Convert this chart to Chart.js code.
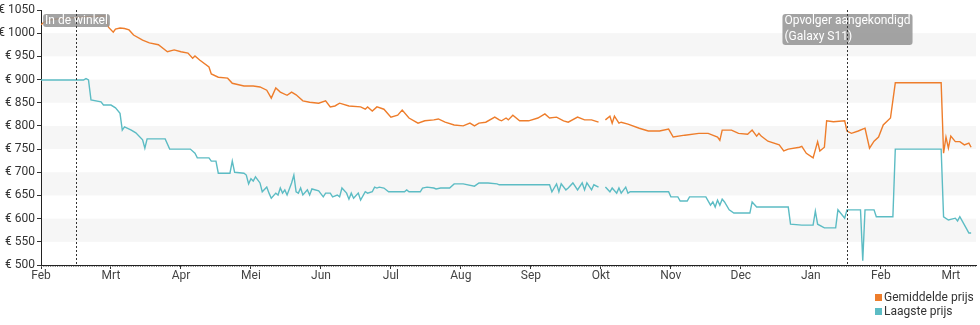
<!DOCTYPE html>
<html lang="nl">
<head>
  <meta charset="utf-8">
  <title>Prijsverloop</title>
  <style type="text/css">
    body { margin: 0; background: #fff; }
    .chart-container {
      position: relative;
      width: 980px;
      height: 325px;
    }
    #legend {
      position: absolute;
      left: 875px;
      top: 290px;
      font-family: Roboto, sans-serif;
      font-size: 12px;
      color: #333;
      line-height: 14px;
    }
    #legend span.box {
      display: inline-block;
      width: 7px;
      height: 7px;
      margin-right: 2px;
    }
  </style>
</head>
<body>
  <div class="chart-container">
    <canvas id="priceChart"></canvas>
    <div id="legend"></div>
  </div>

  <script src="https://cdn.jsdelivr.net/npm/chart.js@4.4.0/dist/chart.umd.min.js"></script>
  <script>
    var monthLabels = ['Feb', 'Mrt', 'Apr', 'Mei', 'Jun', 'Jul', 'Aug', 'Sep', 'Okt', 'Nov', 'Dec', 'Jan', 'Feb', 'Mrt'];
    var yTicks = [500, 550, 600, 650, 700, 750, 800, 850, 900, 950, 1000, 1050];

    var gemDates = ['2019-02-01','2019-02-02','2019-02-04','2019-02-08','2019-02-13','2019-02-18','2019-02-22','2019-02-25','2019-02-27','2019-02-28',
      '2019-03-02','2019-03-03','2019-03-05','2019-03-07','2019-03-09','2019-03-11','2019-03-15','2019-03-18','2019-03-22','2019-03-26','2019-03-29',
      '2019-04-01','2019-04-04','2019-04-06','2019-04-07','2019-04-09','2019-04-13','2019-04-14','2019-04-17','2019-04-21','2019-04-23','2019-04-28',
      '2019-05-02','2019-05-05','2019-05-08','2019-05-10','2019-05-12','2019-05-14','2019-05-17','2019-05-19','2019-05-21','2019-05-24','2019-05-27','2019-05-31',
      '2019-06-03','2019-06-05','2019-06-07','2019-06-09','2019-06-13','2019-06-18','2019-06-20','2019-06-21','2019-06-23','2019-06-25','2019-06-28',
      '2019-07-01','2019-07-04','2019-07-06','2019-07-09','2019-07-13','2019-07-16','2019-07-20','2019-07-22','2019-07-25','2019-07-29',
      '2019-08-02','2019-08-05','2019-08-07','2019-08-09','2019-08-12','2019-08-16','2019-08-18','2019-08-19','2019-08-21','2019-08-22','2019-08-24','2019-08-27','2019-08-31',
      '2019-09-04','2019-09-07','2019-09-09','2019-09-12','2019-09-15','2019-09-17','2019-09-21','2019-09-24','2019-09-27','2019-09-30',
      '2019-10-01','2019-10-03','2019-10-05','2019-10-06','2019-10-07','2019-10-09','2019-10-10','2019-10-13','2019-10-18','2019-10-22','2019-10-27','2019-10-31',
      '2019-11-02','2019-11-07','2019-11-13','2019-11-17','2019-11-21','2019-11-22','2019-11-23','2019-11-27','2019-11-30',
      '2019-12-04','2019-12-06','2019-12-08','2019-12-09','2019-12-10','2019-12-13','2019-12-18','2019-12-20','2019-12-22','2019-12-27','2019-12-28','2019-12-30',
      '2020-01-02','2020-01-04','2020-01-05','2020-01-07','2020-01-08','2020-01-11','2020-01-16','2020-01-17','2020-01-19','2020-01-22','2020-01-25','2020-01-27','2020-01-29','2020-01-31',
      '2020-02-02','2020-02-05','2020-02-07','2020-02-26','2020-02-27','2020-02-28','2020-02-29',
      '2020-03-01','2020-03-03','2020-03-05','2020-03-07','2020-03-09','2020-03-10'];
    var gemPrijs = [1018,1023,1028,1031,1033,1035,1036,1037,1037,1013,
      1002,1009,1011,1010,1007,996,985,979,975,960,964,
      960,957,946,951,942,927,912,905,903,892,886,
      886,884,877,860,882,873,866,873,867,854,851,849,
      854,841,843,849,843,841,836,841,832,841,836,
      819,823,834,817,806,811,813,815,808,802,
      800,806,800,806,808,819,813,811,817,813,823,811,811,
      817,826,817,819,811,808,819,813,813,808,
      null,813,821,806,821,806,808,804,795,789,789,793,
      776,780,784,784,776,769,791,791,784,
      782,791,778,784,778,767,759,746,750,754,756,741,
      731,766,746,754,811,809,811,789,784,789,795,752,767,776,
      802,817,893,893,741,776,752,
      778,766,766,759,763,754];

    var laagDates = ['2019-02-01','2019-02-18','2019-02-19','2019-02-20','2019-02-21','2019-02-25','2019-02-26',
      '2019-03-01','2019-03-03','2019-03-05','2019-03-06','2019-03-07','2019-03-10','2019-03-12','2019-03-15','2019-03-16','2019-03-17','2019-03-25','2019-03-27',
      '2019-04-05','2019-04-07','2019-04-08','2019-04-13','2019-04-14','2019-04-16','2019-04-17','2019-04-22','2019-04-23','2019-04-24','2019-04-28','2019-04-29','2019-04-30',
      '2019-05-01','2019-05-02','2019-05-03','2019-05-05','2019-05-06','2019-05-08','2019-05-09','2019-05-10','2019-05-12','2019-05-13','2019-05-14','2019-05-15','2019-05-16','2019-05-17',
      '2019-05-19','2019-05-20','2019-05-21','2019-05-22','2019-05-23','2019-05-24','2019-05-26','2019-05-27','2019-05-28','2019-05-31',
      '2019-06-02','2019-06-03','2019-06-05','2019-06-06','2019-06-08','2019-06-09','2019-06-10','2019-06-12','2019-06-13','2019-06-14','2019-06-15','2019-06-17','2019-06-18',
      '2019-06-20','2019-06-21','2019-06-23','2019-06-24','2019-06-25','2019-06-26','2019-06-28','2019-06-30',
      '2019-07-07','2019-07-08','2019-07-09','2019-07-14','2019-07-15','2019-07-17','2019-07-20','2019-07-21','2019-07-23','2019-07-27','2019-07-29',
      '2019-08-02','2019-08-07','2019-08-09','2019-08-13','2019-08-17','2019-08-18',
      '2019-09-09','2019-09-10','2019-09-12','2019-09-13','2019-09-14','2019-09-16','2019-09-17','2019-09-19','2019-09-21','2019-09-23','2019-09-24','2019-09-25','2019-09-27','2019-09-28','2019-09-30',
      '2019-10-01','2019-10-03','2019-10-05','2019-10-06','2019-10-08','2019-10-09','2019-10-10','2019-10-12','2019-10-13','2019-10-14','2019-10-31',
      '2019-11-01','2019-11-04','2019-11-05','2019-11-08','2019-11-09','2019-11-16','2019-11-18','2019-11-19','2019-11-20','2019-11-21','2019-11-22','2019-11-23','2019-11-24','2019-11-26','2019-11-28',
      '2019-12-05','2019-12-06','2019-12-08','2019-12-22','2019-12-23','2019-12-28',
      '2020-01-02','2020-01-03','2020-01-04','2020-01-07','2020-01-12','2020-01-13','2020-01-16','2020-01-17','2020-01-23','2020-01-24','2020-01-25','2020-01-29','2020-01-30',
      '2020-02-06','2020-02-07','2020-02-26','2020-02-27','2020-02-29',
      '2020-03-03','2020-03-04','2020-03-05','2020-03-08','2020-03-09','2020-03-10'];
    var laagPrijs = [899,899,902,899,856,852,845,
      845,839,827,791,798,791,785,770,752,772,772,750,
      750,741,731,731,724,724,698,698,724,700,698,694,675,
      686,681,690,677,658,668,655,644,655,651,666,655,662,651,
      677,694,658,655,666,651,662,651,664,660,
      647,655,655,647,651,647,666,655,642,655,644,655,640,
      658,655,658,668,666,668,666,658,
      658,662,658,658,666,668,666,664,666,666,675,
      675,670,677,677,675,673,
      673,658,675,658,675,662,666,677,662,677,662,677,662,673,668,
      null,668,658,666,655,666,655,668,655,658,658,
      647,647,638,638,647,647,629,636,625,640,629,642,636,619,612,
      612,636,625,625,588,586,
      586,616,588,580,580,619,601,619,619,509,619,619,604,
      604,750,750,604,597,
      601,595,604,578,569,569];

    var eventDates = ['2019-02-15', '2020-01-17'];
    var eventLabels = [['In de winkel'], ['Opvolger aangekondigd', '(Galaxy S11)']];

    var orange = '#ee7d2b';
    var teal = '#5cbcc4';

    // position on the axis: one unit per month, counted from Feb 2019
    function monthPos(dateStr) {
      var p = dateStr.split('-');
      var y = +p[0], m = +p[1], d = +p[2];
      var dim = new Date(y, m, 0).getDate();
      return (y - 2019) * 12 + (m - 2) + (d - 1) / dim;
    }
    function toPoints(dates, values) {
      return dates.map(function(d, i) { return { x: monthPos(d), y: values[i] }; });
    }

    var bandsPlugin = {
      id: 'bands',
      beforeDatasetsDraw: function(chart) {
        var ctx = chart.ctx, ys = chart.scales.y, area = chart.chartArea;
        ctx.save();
        ctx.fillStyle = '#f6f6f6';
        for (var i = 1; i < yTicks.length - 1; i += 2) {
          var top = ys.getPixelForValue(yTicks[i + 1]);
          var bot = ys.getPixelForValue(yTicks[i]);
          ctx.fillRect(area.left + 1, top, area.right - area.left - 1, bot - top);
        }
        ctx.restore();
      }
    };

    var eventsPlugin = {
      id: 'events',
      afterDatasetsDraw: function(chart) {
        var ctx = chart.ctx, xs = chart.scales.x, area = chart.chartArea;
        ctx.save();
        // day ticks under the x axis
        ctx.strokeStyle = '#777';
        ctx.lineWidth = 1;
        ctx.setLineDash([1, 1.3]);
        ctx.beginPath();
        ctx.moveTo(area.left, area.bottom + 1.5);
        ctx.lineTo(area.right, area.bottom + 1.5);
        ctx.stroke();

        ctx.font = '12px Roboto';
        ctx.textBaseline = 'middle';
        eventDates.forEach(function(d, i) {
          var x = Math.round(xs.getPixelForValue(monthPos(d))) + 0.5;
          var lines = eventLabels[i];
          var w = 0;
          lines.forEach(function(l) { w = Math.max(w, ctx.measureText(l).width); });
          w += 4;
          var h = lines.length == 1 ? 13 : 31;
          var bx = x - w / 2, by = area.top + 4;
          ctx.setLineDash([]);
          ctx.fillStyle = 'rgba(150,150,150,0.88)';
          ctx.beginPath();
          ctx.roundRect(bx, by, w, h, 3);
          ctx.fill();
          ctx.fillStyle = '#fff';
          lines.forEach(function(l, j) {
            ctx.fillText(l, bx + 2, by + 7 + j * 15.5);
          });
          ctx.strokeStyle = '#333';
          ctx.setLineDash([2, 2]);
          ctx.beginPath();
          ctx.moveTo(x, area.top);
          ctx.lineTo(x, area.bottom);
          ctx.stroke();
        });
        ctx.restore();
      }
    };

    Chart.defaults.font.family = 'Roboto';
    Chart.defaults.font.size = 12;
    Chart.defaults.color = '#333';

    var priceChart = new Chart(document.getElementById('priceChart').getContext('2d'), {
      type: 'line',
      data: {
        datasets: [
          {
            label: 'Gemiddelde prijs',
            data: toPoints(gemDates, gemPrijs),
            borderColor: orange,
            backgroundColor: orange,
            borderWidth: 1.4,
            pointRadius: 0,
            tension: 0,
            spanGaps: false,
            fill: false
          },
          {
            label: 'Laagste prijs',
            data: toPoints(laagDates, laagPrijs),
            borderColor: teal,
            backgroundColor: teal,
            borderWidth: 1.4,
            pointRadius: 0,
            tension: 0,
            spanGaps: false,
            fill: false
          }
        ]
      },
      options: {
        responsive: true,
        maintainAspectRatio: false,
        animation: false,
        layout: { padding: { top: 10, right: 4, bottom: 40, left: 0 } },
        plugins: {
          legend: { display: false },
          tooltip: { enabled: false }
        },
        scales: {
          x: {
            type: 'linear',
            min: 0,
            max: 13.36,
            afterBuildTicks: function(scale) {
              scale.ticks = monthLabels.map(function(l, i) { return { value: i }; });
            },
            afterFit: function(scale) { scale.height = 20; },
            grid: { drawOnChartArea: false, drawTicks: true, tickLength: 4, color: '#333' },
            border: { display: true, color: '#222', width: 1 },
            ticks: {
              autoSkip: false,
              maxRotation: 0,
              padding: 0,
              color: '#444',
              callback: function(v) { return monthLabels[v]; }
            }
          },
          y: {
            min: 500,
            max: 1050,
            afterBuildTicks: function(scale) {
              scale.ticks = yTicks.map(function(v) { return { value: v }; });
            },
            afterFit: function(scale) { scale.width = 41; },
            grid: { drawOnChartArea: false, drawTicks: true, tickLength: 4, color: '#333' },
            border: { display: true, color: '#222', width: 1 },
            ticks: {
              padding: 2,
              color: '#333',
              callback: function(v) { return '€ ' + v; }
            }
          }
        }
      },
      plugins: [bandsPlugin, eventsPlugin]
    });

    // legend stacked in the bottom right corner
    var legendHtml = '';
    priceChart.data.datasets.forEach(function(ds) {
      legendHtml += '<div><span class="box" style="background:' + ds.borderColor + '"></span>' + ds.label + '</div>';
    });
    document.getElementById('legend').innerHTML = legendHtml;
  </script>
</body>
</html>
